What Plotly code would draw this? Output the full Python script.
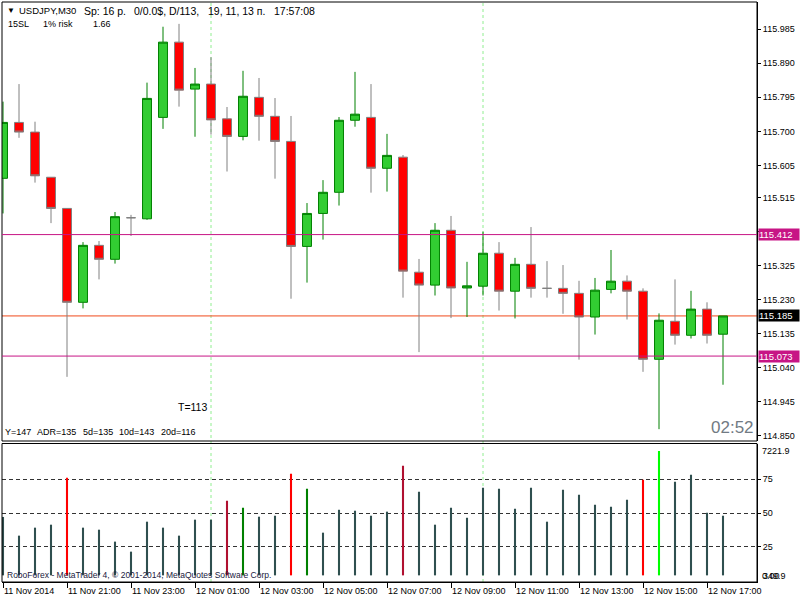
import plotly.graph_objects as go

# ---------------- data ----------------
bar_index = list(range(46))
opens = [115.569, 115.725, 115.698, 115.572, 115.485, 115.223, 115.382, 115.343, 115.459, 115.456,
         115.739, 115.949, 115.818, 115.832, 115.735, 115.686, 115.795, 115.742, 115.672, 115.379,
         115.471, 115.530, 115.731, 115.739, 115.597, 115.628, 115.307, 115.271, 115.424, 115.263,
         115.268, 115.360, 115.254, 115.329, 115.262, 115.262, 115.248, 115.182, 115.259, 115.282,
         115.254, 115.064, 115.170, 115.131, 115.204, 115.134]
highs = [115.783, 115.832, 115.727, 115.572, 115.485, 115.391, 115.394, 115.475, 115.467, 115.836,
         115.992, 116.000, 115.877, 115.907, 115.768, 115.869, 115.849, 115.793, 115.743, 115.500,
         115.564, 115.740, 115.866, 115.832, 115.693, 115.634, 115.344, 115.444, 115.464, 115.336,
         115.420, 115.391, 115.347, 115.433, 115.338, 115.327, 115.283, 115.291, 115.369, 115.298,
         115.262, 115.192, 115.287, 115.255, 115.223, 115.185]
lows = [115.471, 115.682, 115.557, 115.444, 115.015, 115.206, 115.287, 115.331, 115.408, 115.453,
        115.707, 115.769, 115.685, 115.691, 115.588, 115.675, 115.674, 115.568, 115.233, 115.278,
        115.398, 115.493, 115.713, 115.529, 115.532, 115.236, 115.084, 115.242, 115.179, 115.182,
        115.242, 115.200, 115.178, 115.236, 115.236, 115.191, 115.063, 115.133, 115.248, 115.175,
        115.029, 114.869, 115.105, 115.122, 115.108, 114.993]
closes = [115.725, 115.698, 115.576, 115.485, 115.223, 115.382, 115.343, 115.462, 115.459, 115.792,
          115.949, 115.815, 115.832, 115.732, 115.686, 115.798, 115.742, 115.672, 115.379, 115.471,
          115.530, 115.731, 115.748, 115.597, 115.633, 115.310, 115.271, 115.424, 115.263, 115.269,
          115.360, 115.254, 115.329, 115.262, 115.262, 115.248, 115.182, 115.257, 115.282, 115.254,
          115.064, 115.173, 115.131, 115.204, 115.131, 115.185]

ind_values = [47.1, 33.3, 39.2, 41.4, 76.0, 39.2, 37.7, 28.9, 21.5, 43.6,
              39.2, 33.3, 45.1, 45.1, 59.0, 53.9, 47.3, 48.0, 78.9, 67.9,
              35.5, 52.4, 51.7, 48.0, 51.0, 84.8, 65.7, 41.4, 53.9, 46.5,
              68.6, 67.9, 53.2, 68.6, 43.6, 67.1, 63.5, 56.1, 54.6, 59.8,
              74.5, 95.8, 73.0, 78.2, 50.2, 48.0]
ind_kind = ['n', 'n', 'n', 'n', 'r', 'n', 'n', 'n', 'n', 'n',
            'n', 'n', 'n', 'n', 'c', 'g', 'n', 'n', 'r', 'g',
            'n', 'n', 'n', 'n', 'n', 'c', 'n', 'n', 'n', 'n',
            'n', 'n', 'n', 'n', 'n', 'n', 'n', 'n', 'n', 'n',
            'r', 'l', 'n', 'n', 'n', 'n']

time_tick_pos = [0, 4, 8, 12, 16, 20, 24, 28, 32, 36, 40, 44]
time_tick_text = ["11 Nov 2014", "11 Nov 21:00", "11 Nov 23:00", "12 Nov 01:00", "12 Nov 03:00",
                  "12 Nov 05:00", "12 Nov 07:00", "12 Nov 09:00", "12 Nov 11:00", "12 Nov 13:00",
                  "12 Nov 15:00", "12 Nov 17:00"]
price_ticks = [115.985, 115.890, 115.795, 115.700, 115.605, 115.515, 115.420, 115.325,
               115.230, 115.135, 115.040, 114.945, 114.850]
ind_ticks = [25, 50, 75]
level_upper = 115.412
level_lower = 115.073
current_price = 115.185
separator_bars = [13, 30]

# ---------------- style ----------------
FONT = "Liberation Sans"
kind_color = {'n': '#2F4F4F', 'r': '#FF0000', 'c': '#B01030', 'g': '#008000', 'l': '#00FF00'}
IND_BASE = 4


def px(xp):
    return (xp - 2) / 755.0


def py(yp):
    return (582 - yp) / 580.0


fig = go.Figure()

fig.add_trace(go.Candlestick(
    x=bar_index, open=opens, high=highs, low=lows, close=closes,
    xaxis='x', yaxis='y',
    increasing=dict(fillcolor='#32CD32', line=dict(color='#008000', width=1)),
    decreasing=dict(fillcolor='#FF0000', line=dict(color='#808080', width=1)),
    showlegend=False, hoverinfo='skip'))

fig.add_trace(go.Bar(
    x=bar_index, y=[v - IND_BASE for v in ind_values], base=IND_BASE,
    xaxis='x', yaxis='y2', width=0.13,
    marker=dict(color=[kind_color[k] for k in ind_kind], line=dict(width=0)),
    showlegend=False, hoverinfo='skip'))

shapes = []
# panel borders
shapes.append(dict(type='rect', xref='x domain', yref='y domain', x0=0, x1=1, y0=0, y1=1,
                   line=dict(color='black', width=1), layer='above'))
shapes.append(dict(type='rect', xref='x domain', yref='y2 domain', x0=0, x1=1, y0=0, y1=1,
                   line=dict(color='black', width=1), layer='above'))
# separators
for s in separator_bars:
    shapes.append(dict(type='line', xref='x', yref='paper', x0=s, x1=s, y0=0, y1=1,
                       line=dict(color='#90EE90', width=1, dash='3px,3px'), layer='below'))
# levels
for lv, col, lay in [(level_upper, '#C71585', 'above'), (level_lower, '#C71585', 'above'),
                     (current_price, '#F04A1A', 'below')]:
    shapes.append(dict(type='line', xref='x domain', yref='y', x0=0, x1=1, y0=lv, y1=lv,
                       line=dict(color=col, width=1), layer=lay))

ann = []


def txt(text, xp, yp, size, color='black', xanchor='left'):
    ann.append(dict(text=text, x=px(xp), y=py(yp), xref='paper', yref='paper',
                    xanchor=xanchor, yanchor='middle', showarrow=False,
                    font=dict(family=FONT, size=size, color=color)))


# header
txt("▼", 5, 11, 8)
txt("USDJPY,M30", 17, 11, 9.5)
txt("Sp: 16 p.", 82, 11, 10.5)
txt("0/0.0$, D/113,", 132, 11, 10.5)
txt("19, 11, 13 п.", 206, 11, 10.5)
txt("17:57:08", 272, 11, 10.5)
txt("15SL", 6, 24, 9)
txt("1% risk", 41, 24, 9)
txt("1.66", 91, 24, 9)
# info texts
txt("T=113", 209, 407, 10.5, xanchor='right')
for t, x0 in [("Y=147", 3), ("ADR=135", 35), ("5d=135", 81), ("10d=143", 117), ("20d=116", 159)]:
    txt(t, x0, 432, 9)
txt("02:52", 709, 427, 17, color='#717A83')
txt("RoboForex - MetaTrader 4, © 2001-2014, MetaQuotes Software Corp.", 5, 575, 8.5, color='#202040')
# indicator scale extras
txt("7221.9", 760, 451, 9)
txt("0.00", 760, 576, 9)
txt("349.9", 761, 576, 9)

# price labels
for lv, bg in [(level_upper, '#C71585'), (current_price, '#000000'), (level_lower, '#C71585')]:
    ann.append(dict(text=f"{lv:.3f}", x=1, y=lv, xref='paper', yref='y', xanchor='left',
                    yanchor='middle', xshift=1, showarrow=False, width=40, height=11,
                    align='left', bgcolor=bg, borderpad=0,
                    font=dict(family=FONT, size=9.5, color='white')))

fig.update_layout(
    width=800, height=600, autosize=False,
    margin=dict(l=2, r=43, t=2, b=18),
    paper_bgcolor='white', plot_bgcolor='white',
    showlegend=False, boxgap=0.44, boxgroupgap=0,
    xaxis=dict(domain=[0, 1], range=[-0.0625, 47.125], anchor='y2',
               tickmode='array', tickvals=time_tick_pos, ticktext=time_tick_text,
               ticks='outside', ticklen=5, tickcolor='black', ticklabelposition='outside right',
               showgrid=False, zeroline=False, showline=True, linecolor='black',
               tickfont=dict(family=FONT, size=9, color='black'),
               rangeslider=dict(visible=False), fixedrange=True),
    yaxis=dict(domain=[py(441), 1], range=[114.836, 116.061], side='right', anchor='x',
               tickmode='array', tickvals=price_ticks, ticktext=[f"{p:.3f}" for p in price_ticks],
               ticks='outside', ticklen=3, tickcolor='black', showgrid=False, zeroline=False,
               showline=True, linecolor='black',
               tickfont=dict(family=FONT, size=9, color='black')),
    yaxis2=dict(domain=[0, py(443.5)], range=[-0.9, 101.3], side='right', anchor='x',
                tickmode='array', tickvals=ind_ticks, ticktext=[str(t) for t in ind_ticks],
                ticks='outside', ticklen=3, tickcolor='black', showgrid=True,
                gridcolor='#333333', griddash='4px,3px', gridwidth=1, zeroline=False,
                showline=True, linecolor='black',
                tickfont=dict(family=FONT, size=9, color='black')),
    shapes=shapes, annotations=ann,
)

fig.write_html("out.html")
